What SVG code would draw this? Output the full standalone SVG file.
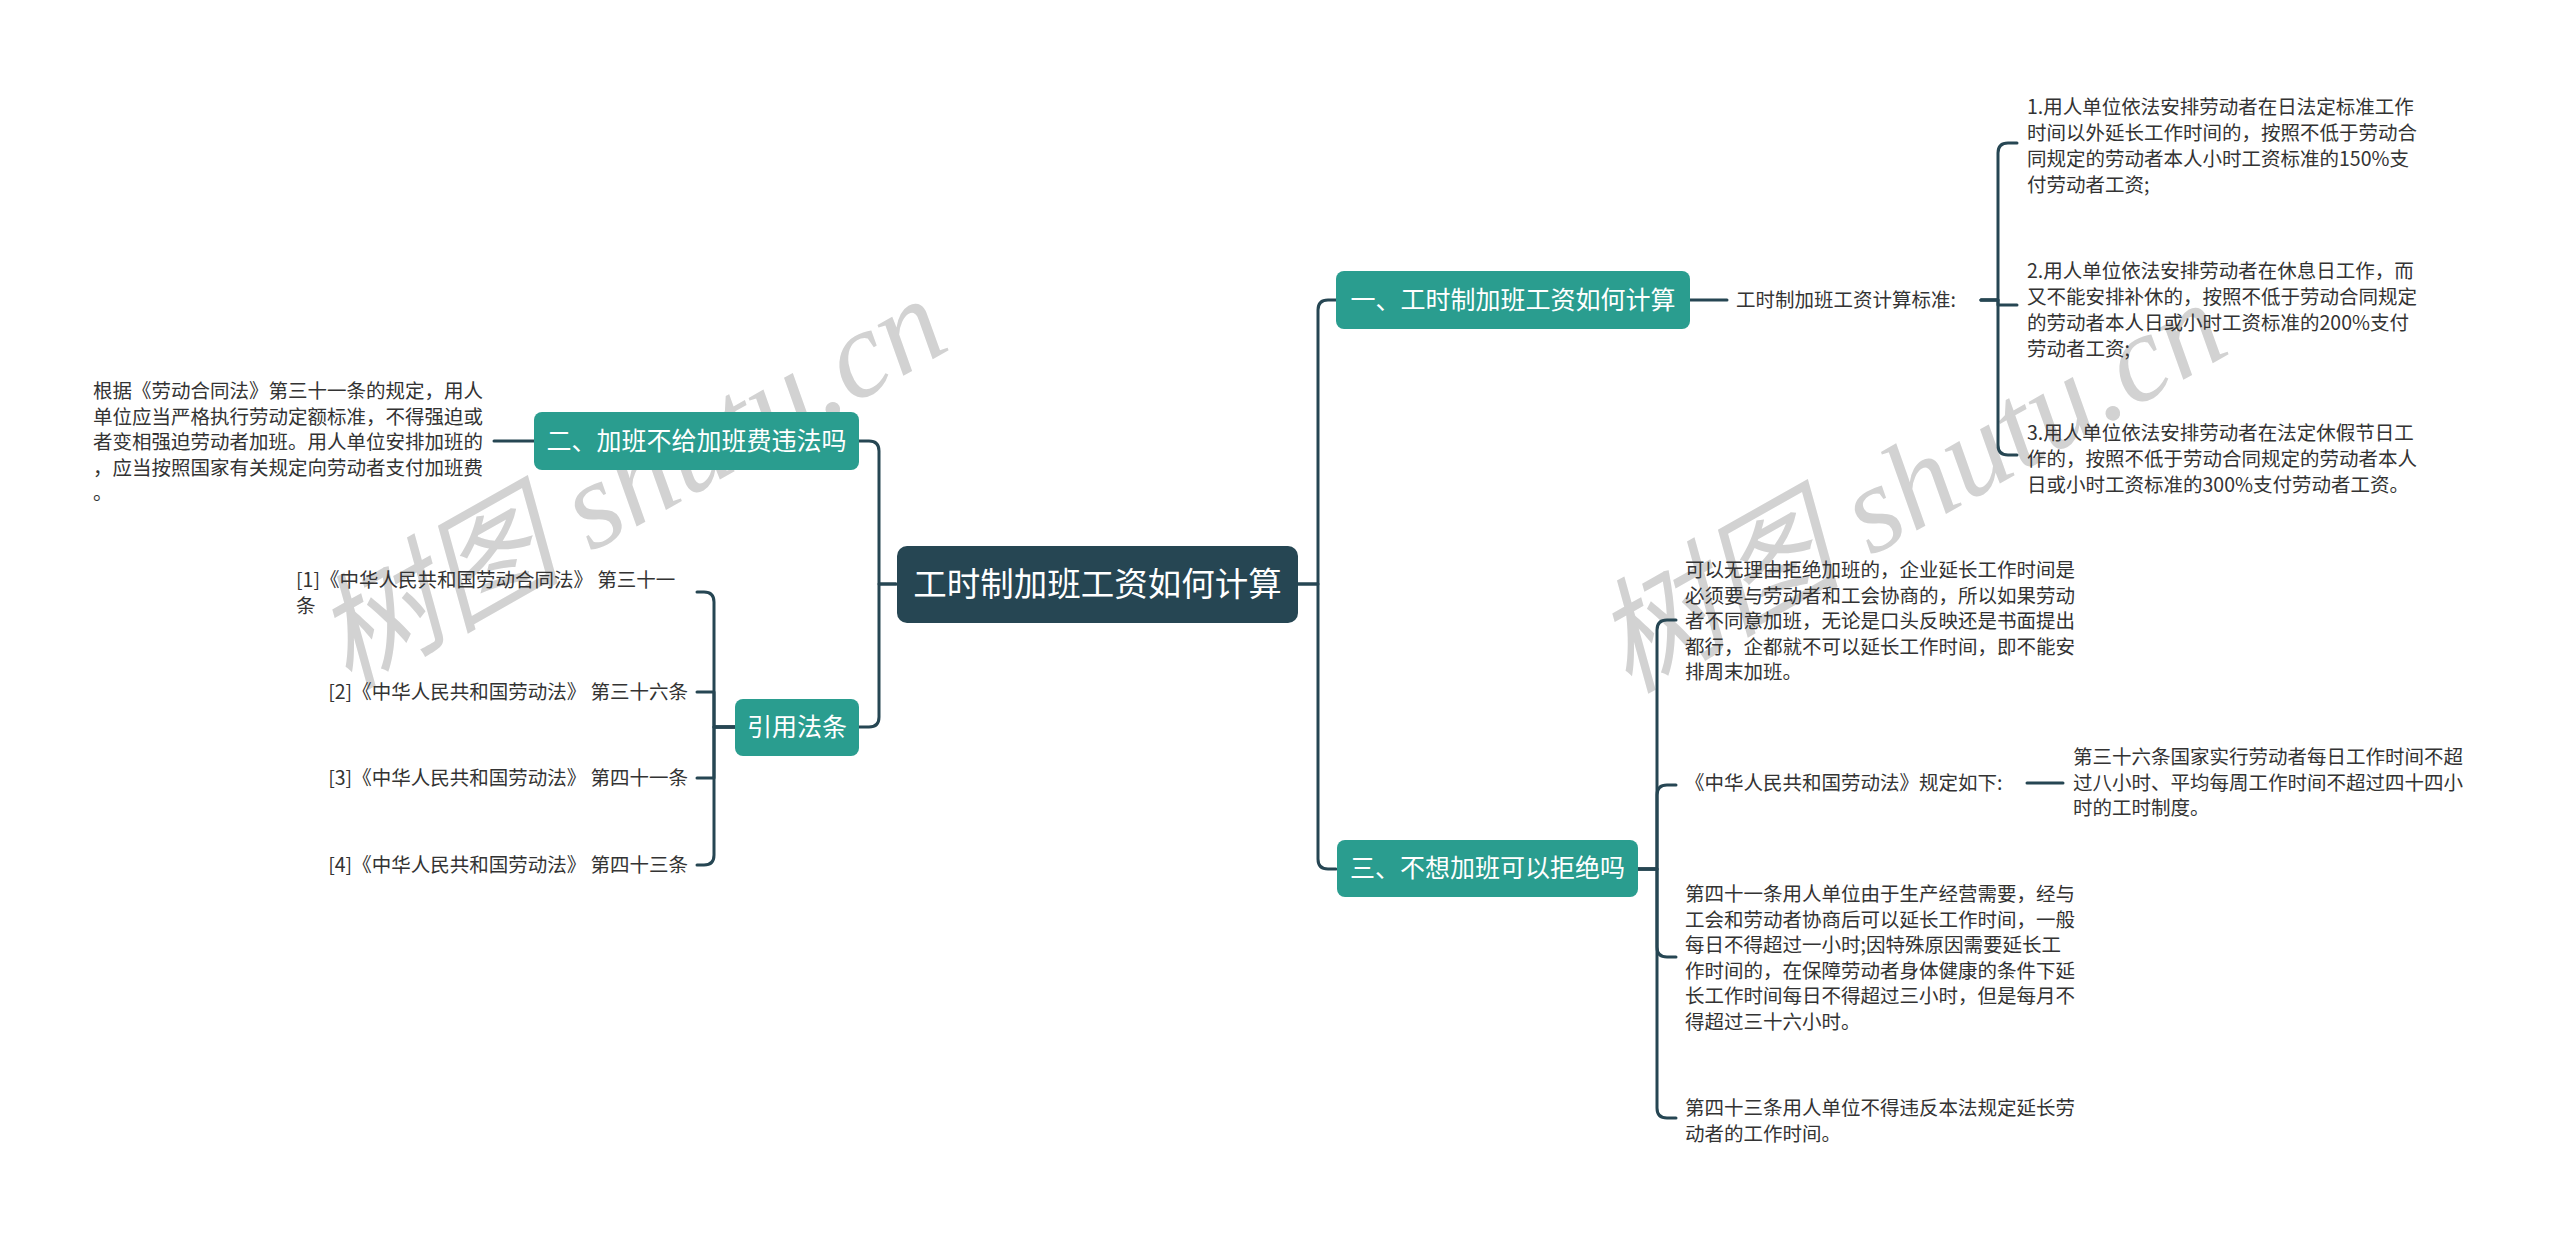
<svg xmlns="http://www.w3.org/2000/svg" width="2560" height="1238" viewBox="0 0 2560 1238">
<style>
.t{font-family:"Noto Sans CJK SC","Microsoft YaHei",sans-serif;font-size:19.5px;fill:#333333}
.b{font-family:"Noto Sans CJK SC","Microsoft YaHei",sans-serif;font-size:25px;fill:#ffffff;text-anchor:middle}
.r{font-family:"Noto Sans CJK SC","Microsoft YaHei",sans-serif;font-size:33.5px;fill:#ffffff;text-anchor:middle}
.teal{fill:#2a9d8f}
.wm{font-family:"Liberation Serif","Noto Sans CJK SC",serif;font-style:italic;font-size:124px;fill:#d2d2d2}
.c path{fill:none;stroke:#264653;stroke-width:3;stroke-linecap:round;stroke-linejoin:round}
</style>
<rect width="2560" height="1238" fill="#ffffff"/>
<g id="watermarks">
<text class="wm" x="348" y="690" transform="rotate(-29.5 348 690)">树图 shutu.cn</text>
<text class="wm" x="1628" y="694" transform="rotate(-29.5 1628 694)">树图 shutu.cn</text>
</g>
<g class="c" id="connectors">
<path d="M1298 584 H1318 V310 Q1318 300 1328 300 H1336"/>
<path d="M1298 584 H1318 V859 Q1318 869 1328 869 H1336"/>
<path d="M896 584 H879 V451 Q879 441 869 441 H859"/>
<path d="M896 584 H879 V717 Q879 727 869 727 H859"/>
<path d="M534 441 H494"/>
<path d="M735 727 H714 V602 Q714 592 704 592 H697"/>
<path d="M735 727 H714 V692 H697"/>
<path d="M735 727 H714 V778 H697"/>
<path d="M735 727 H714 V855 Q714 865 704 865 H697"/>
<path d="M1690 300 H1727"/>
<path d="M1981 300 H1998 V153 Q1998 143 2008 143 H2017"/>
<path d="M1981 300 H1998 V305 H2017"/>
<path d="M1981 300 H1998 V445 Q1998 455 2008 455 H2017"/>
<path d="M1638 869 H1657 V630 Q1657 620 1667 620 H1676"/>
<path d="M1638 869 H1657 V795 Q1657 785 1667 785 H1676"/>
<path d="M1638 869 H1657 V947 Q1657 957 1667 957 H1676"/>
<path d="M1638 869 H1657 V1108 Q1657 1118 1667 1118 H1676"/>
<path d="M2027 783 H2063"/>
</g>
<g id="root">
<rect x="897" y="546" width="401" height="77" rx="10" fill="#264653"/>
<text class="r" x="1097.5" y="596">工时制加班工资如何计算</text>
</g>
<g id="b1">
<rect class="teal" x="1336" y="271" width="354" height="58" rx="8"/>
<text class="b" x="1513" y="309">一、工时制加班工资如何计算</text>
</g>
<g id="b1-label">
<text class="t" x="1736" y="307">工时制加班工资计算标准:</text>
</g>
<g id="b1-l1">
<text class="t" x="2027" y="114"><tspan x="2027">1.用人单位依法安排劳动者在日法定标准工作</tspan><tspan x="2027" dy="26">时间以外延长工作时间的，按照不低于劳动合</tspan><tspan x="2027" dy="26">同规定的劳动者本人小时工资标准的150%支</tspan><tspan x="2027" dy="26">付劳动者工资;</tspan></text>
</g>
<g id="b1-l2">
<text class="t" x="2027" y="278"><tspan x="2027">2.用人单位依法安排劳动者在休息日工作，而</tspan><tspan x="2027" dy="26">又不能安排补休的，按照不低于劳动合同规定</tspan><tspan x="2027" dy="26">的劳动者本人日或小时工资标准的200%支付</tspan><tspan x="2027" dy="26">劳动者工资;</tspan></text>
</g>
<g id="b1-l3">
<text class="t" x="2027" y="440"><tspan x="2027">3.用人单位依法安排劳动者在法定休假节日工</tspan><tspan x="2027" dy="26">作的，按照不低于劳动合同规定的劳动者本人</tspan><tspan x="2027" dy="26">日或小时工资标准的300%支付劳动者工资。</tspan></text>
</g>
<g id="b2">
<rect class="teal" x="534" y="412" width="325" height="58" rx="8"/>
<text class="b" x="696.5" y="450">二、加班不给加班费违法吗</text>
</g>
<g id="b2-l1">
<text class="t" x="93" y="398"><tspan x="93">根据《劳动合同法》第三十一条的规定，用人</tspan><tspan x="93" dy="25.5">单位应当严格执行劳动定额标准，不得强迫或</tspan><tspan x="93" dy="25.5">者变相强迫劳动者加班。用人单位安排加班的</tspan><tspan x="93" dy="25.5">，应当按照国家有关规定向劳动者支付加班费</tspan><tspan x="93" dy="25.5">。</tspan></text>
</g>
<g id="b4">
<rect class="teal" x="735" y="699" width="124" height="57" rx="8"/>
<text class="b" x="797" y="736">引用法条</text>
</g>
<g id="ref1">
<text class="t" x="296" y="587"><tspan x="296">[1]《中华人民共和国劳动合同法》 第三十一</tspan><tspan x="296" dy="25.5">条</tspan></text>
</g>
<g id="ref2"><text class="t" x="688" y="699" text-anchor="end">[2]《中华人民共和国劳动法》 第三十六条</text></g>
<g id="ref3"><text class="t" x="688" y="785" text-anchor="end">[3]《中华人民共和国劳动法》 第四十一条</text></g>
<g id="ref4"><text class="t" x="688" y="872" text-anchor="end">[4]《中华人民共和国劳动法》 第四十三条</text></g>
<g id="b3">
<rect class="teal" x="1337" y="840" width="301" height="57" rx="8"/>
<text class="b" x="1487.5" y="877">三、不想加班可以拒绝吗</text>
</g>
<g id="b3-c1">
<text class="t" x="1685" y="577"><tspan x="1685">可以无理由拒绝加班的，企业延长工作时间是</tspan><tspan x="1685" dy="25.6">必须要与劳动者和工会协商的，所以如果劳动</tspan><tspan x="1685" dy="25.6">者不同意加班，无论是口头反映还是书面提出</tspan><tspan x="1685" dy="25.6">都行，企都就不可以延长工作时间，即不能安</tspan><tspan x="1685" dy="25.6">排周末加班。</tspan></text>
</g>
<g id="b3-c2">
<text class="t" x="1685" y="790">《中华人民共和国劳动法》规定如下:</text>
</g>
<g id="b3-c2-1">
<text class="t" x="2073" y="764"><tspan x="2073">第三十六条国家实行劳动者每日工作时间不超</tspan><tspan x="2073" dy="25.6">过八小时、平均每周工作时间不超过四十四小</tspan><tspan x="2073" dy="25.6">时的工时制度。</tspan></text>
</g>
<g id="b3-c3">
<text class="t" x="1685" y="901"><tspan x="1685">第四十一条用人单位由于生产经营需要，经与</tspan><tspan x="1685" dy="25.6">工会和劳动者协商后可以延长工作时间，一般</tspan><tspan x="1685" dy="25.6">每日不得超过一小时;因特殊原因需要延长工</tspan><tspan x="1685" dy="25.6">作时间的，在保障劳动者身体健康的条件下延</tspan><tspan x="1685" dy="25.6">长工作时间每日不得超过三小时，但是每月不</tspan><tspan x="1685" dy="25.6">得超过三十六小时。</tspan></text>
</g>
<g id="b3-c4">
<text class="t" x="1685" y="1115"><tspan x="1685">第四十三条用人单位不得违反本法规定延长劳</tspan><tspan x="1685" dy="25.6">动者的工作时间。</tspan></text>
</g>
</svg>
